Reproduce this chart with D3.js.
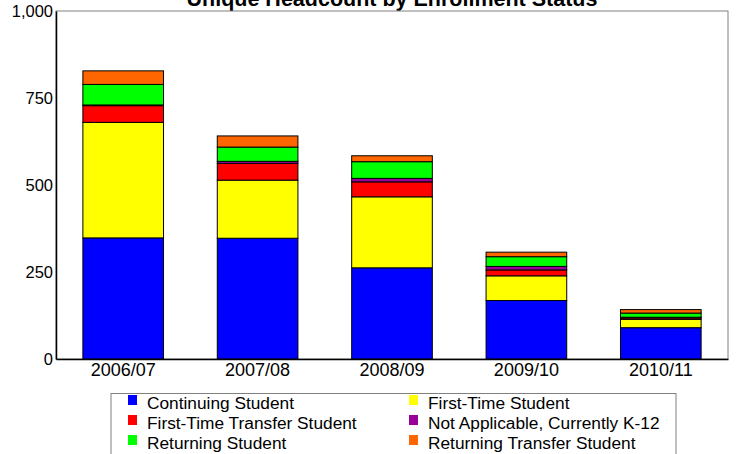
<!DOCTYPE html>
<html>
<head>
<meta charset="utf-8">
<script src="https://cdn.jsdelivr.net/npm/d3@7"></script>
<style>
  body { margin: 0; background: #fff; }
  svg { display: block; font-family: "Liberation Sans", Arial, sans-serif; }
</style>
</head>
<body>
<svg id="chart" width="737" height="454"></svg>
<script>
// years on the x axis
const years = ["2006/07", "2007/08", "2008/09", "2009/10", "2010/11"];

// enrollment status series, bottom to top
const statuses = [
  "Continuing Student",
  "First-Time Student",
  "First-Time Transfer Student",
  "Not Applicable, Currently K-12",
  "Returning Student",
  "Returning Transfer Student"
];
const statusColors = ["#0000ff", "#ffff00", "#ff0000", "#990099", "#00ff00", "#ff6600"];

// headcount per status (same order as years)
const continuing = [348, 347, 262, 168, 90];
const firstTime = [332, 167, 204, 71, 24];
const firstTimeTransfer = [48, 48, 43, 17, 4];
const notApplicable = [2, 6, 10, 10, 2];
const returning = [59, 41, 48, 28, 12];
const returningTransfer = [39, 32, 17, 13, 10];

const yTicks = [0, 250, 500, 750, 1000];

// build rows for d3.stack
const seriesValues = [continuing, firstTime, firstTimeTransfer, notApplicable, returning, returningTransfer];
const rows = years.map((y, i) => {
  const r = { year: y };
  statuses.forEach((s, j) => { r[s] = seriesValues[j][i]; });
  return r;
});

const svg = d3.select("#chart");
const margin = { left: 56, right: 9, top: 11, bottom: 95 };
const width = 737, height = 454;

const x = d3.scaleBand()
  .domain(years)
  .range([margin.left, width - margin.right])
  .paddingInner(0.4)
  .paddingOuter(0.2);

const y = d3.scaleLinear()
  .domain([0, 1000])
  .range([height - margin.bottom, margin.top]);

const color = d3.scaleOrdinal().domain(statuses).range(statusColors);

// title (cut off at the top like the original)
svg.append("text")
  .attr("x", (margin.left + width - margin.right) / 2)
  .attr("y", 6)
  .attr("text-anchor", "middle")
  .attr("font-size", 21.5)
  .attr("font-weight", "bold")
  .text("Unique Headcount by Enrollment Status");

// plot frame (top & right grey)
svg.append("rect")
  .attr("x", margin.left)
  .attr("y", margin.top)
  .attr("width", width - margin.right - margin.left)
  .attr("height", height - margin.bottom - margin.top)
  .attr("fill", "none")
  .attr("stroke", "#808080")
  .attr("stroke-width", 1);

// stacked bars
const stacked = d3.stack().keys(statuses)(rows);

svg.append("g")
  .selectAll("g")
  .data(stacked)
  .join("g")
  .attr("fill", d => color(d.key))
  .selectAll("rect")
  .data(d => d)
  .join("rect")
  .attr("x", d => x(d.data.year))
  .attr("y", d => y(d[1]))
  .attr("width", x.bandwidth())
  .attr("height", d => y(d[0]) - y(d[1]))
  .attr("stroke", "#000")
  .attr("stroke-width", 1);

// y axis
const yAxis = svg.append("g")
  .attr("transform", `translate(${margin.left},0)`)
  .call(d3.axisLeft(y).tickValues(yTicks).tickSize(0).tickPadding(3).tickFormat(d3.format(",")));
yAxis.select(".domain").attr("stroke", "#000").attr("stroke-width", 1.5);
yAxis.selectAll("text").attr("font-size", 16.5).attr("fill", "#000")
  .attr("font-family", "Liberation Sans, Arial, sans-serif");

// x axis
const xAxis = svg.append("g")
  .attr("transform", `translate(0,${height - margin.bottom})`)
  .call(d3.axisBottom(x).tickSize(0).tickPadding(4));
xAxis.select(".domain").attr("stroke", "#000").attr("stroke-width", 1.5);
xAxis.selectAll("text").attr("font-size", 18).attr("fill", "#000")
  .attr("font-family", "Liberation Sans, Arial, sans-serif");

// legend
const legend = svg.append("g");
legend.append("rect")
  .attr("x", 111).attr("y", 393.5)
  .attr("width", 565).attr("height", 70)
  .attr("fill", "#fff").attr("stroke", "#808080");

const item = legend.selectAll("g.item")
  .data(statuses)
  .join("g")
  .attr("class", "item")
  .attr("transform", (d, i) => `translate(${i % 2 === 0 ? 128 : 409},${395 + Math.floor(i / 2) * 20})`);

item.append("rect")
  .attr("width", 9).attr("height", 10)
  .attr("fill", d => color(d));

item.append("text")
  .attr("x", 19).attr("y", 13.5)
  .attr("font-size", 17.3)
  .attr("fill", "#000")
  .text(d => d);
</script>
</body>
</html>
